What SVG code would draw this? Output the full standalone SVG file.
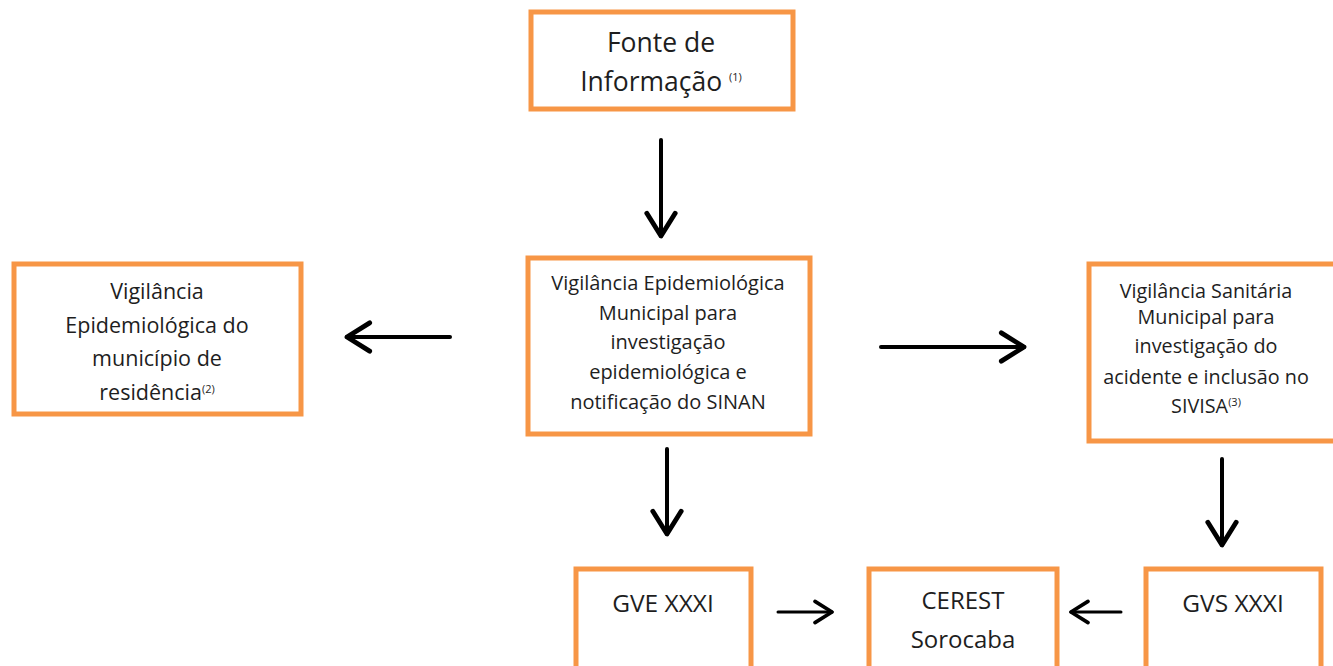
<svg xmlns="http://www.w3.org/2000/svg" width="1333" height="666" viewBox="0 0 1333 666">
<style>
.box{fill:#fff;stroke:#F79646;stroke-width:5}
.t{font-family:"Open Sans",Lato,"Liberation Sans",sans-serif;fill:#1e1e1e;text-anchor:middle;font-weight:500}
.sup{font-size:11px}
.c{fill:none;stroke:#000;stroke-width:4;stroke-linecap:round}
</style>
<defs>
<marker id="ahs" viewBox="0 0 12 12" refX="10" refY="6" markerWidth="8.5" markerHeight="8.5" markerUnits="strokeWidth" orient="auto">
<path d="M2,1 L10,6 L2,11" fill="none" stroke="#000" stroke-width="1.7" stroke-linecap="round" stroke-linejoin="round"/>
</marker>
</defs>
<rect width="1333" height="666" fill="#fff"/>
<g id="connectors">
<path class="c" d="M661,140 L661,236" style="marker-end:url(#ahs)"/>
<path class="c" d="M450,337 L347,337" style="marker-end:url(#ahs)"/>
<path class="c" d="M881,347 L1024,347" style="marker-end:url(#ahs)"/>
<path class="c" d="M667,449 L667,534" style="marker-end:url(#ahs)"/>
<path class="c" d="M1222,459 L1222,545" style="marker-end:url(#ahs)"/>
<path class="c" d="M778,612 L832,612" style="stroke-width:3;marker-end:url(#ahs)"/>
<path class="c" d="M1121,612 L1071,612" style="stroke-width:3;marker-end:url(#ahs)"/>
</g>
<g id="fonte">
<rect class="box" x="531" y="12" width="262" height="97"/>
<text class="t" font-size="26.5" x="661" y="52">Fonte de</text>
<text class="t" font-size="26.5" x="661" y="91">Informação <tspan class="sup" dy="-10">(1)</tspan></text>
</g>
<g id="residencia">
<rect class="box" x="14" y="264" width="287" height="150"/>
<text class="t" font-size="21.5" x="157" y="299">Vigilância</text>
<text class="t" font-size="21.5" x="157" y="333">Epidemiológica do</text>
<text class="t" font-size="21.5" x="157" y="366">município de</text>
<text class="t" font-size="21.5" x="157" y="400">residência<tspan class="sup" dy="-7">(2)</tspan></text>
</g>
<g id="vem">
<rect class="box" x="528" y="258" width="282" height="176"/>
<text class="t" font-size="20" x="668" y="290">Vigilância Epidemiológica</text>
<text class="t" font-size="20" x="668" y="320">Municipal para</text>
<text class="t" font-size="20" x="668" y="349">investigação</text>
<text class="t" font-size="20" x="668" y="379">epidemiológica e</text>
<text class="t" font-size="20" x="668" y="409">notificação do SINAN</text>
</g>
<g id="visa">
<rect class="box" x="1089" y="264" width="250" height="177"/>
<text class="t" font-size="19.8" x="1206" y="298">Vigilância Sanitária</text>
<text class="t" font-size="19.8" x="1206" y="324">Municipal para</text>
<text class="t" font-size="19.8" x="1206" y="353">investigação do</text>
<text class="t" font-size="19.8" x="1206" y="384">acidente e inclusão no</text>
<text class="t" font-size="19.8" x="1206" y="413">SIVISA<tspan class="sup" font-size="8" dy="-7">(3)</tspan></text>
</g>
<g id="gve">
<rect class="box" x="576" y="569" width="175" height="110"/>
<text class="t" font-size="24.5" x="663" y="612">GVE XXXI</text>
</g>
<g id="cerest">
<rect class="box" x="869" y="569" width="188" height="110"/>
<text class="t" font-size="24" x="963" y="609">CEREST</text>
<text class="t" font-size="24" x="963" y="648">Sorocaba</text>
</g>
<g id="gvs">
<rect class="box" x="1146" y="569" width="175" height="110"/>
<text class="t" font-size="24.5" x="1233" y="612">GVS XXXI</text>
</g>
</svg>
